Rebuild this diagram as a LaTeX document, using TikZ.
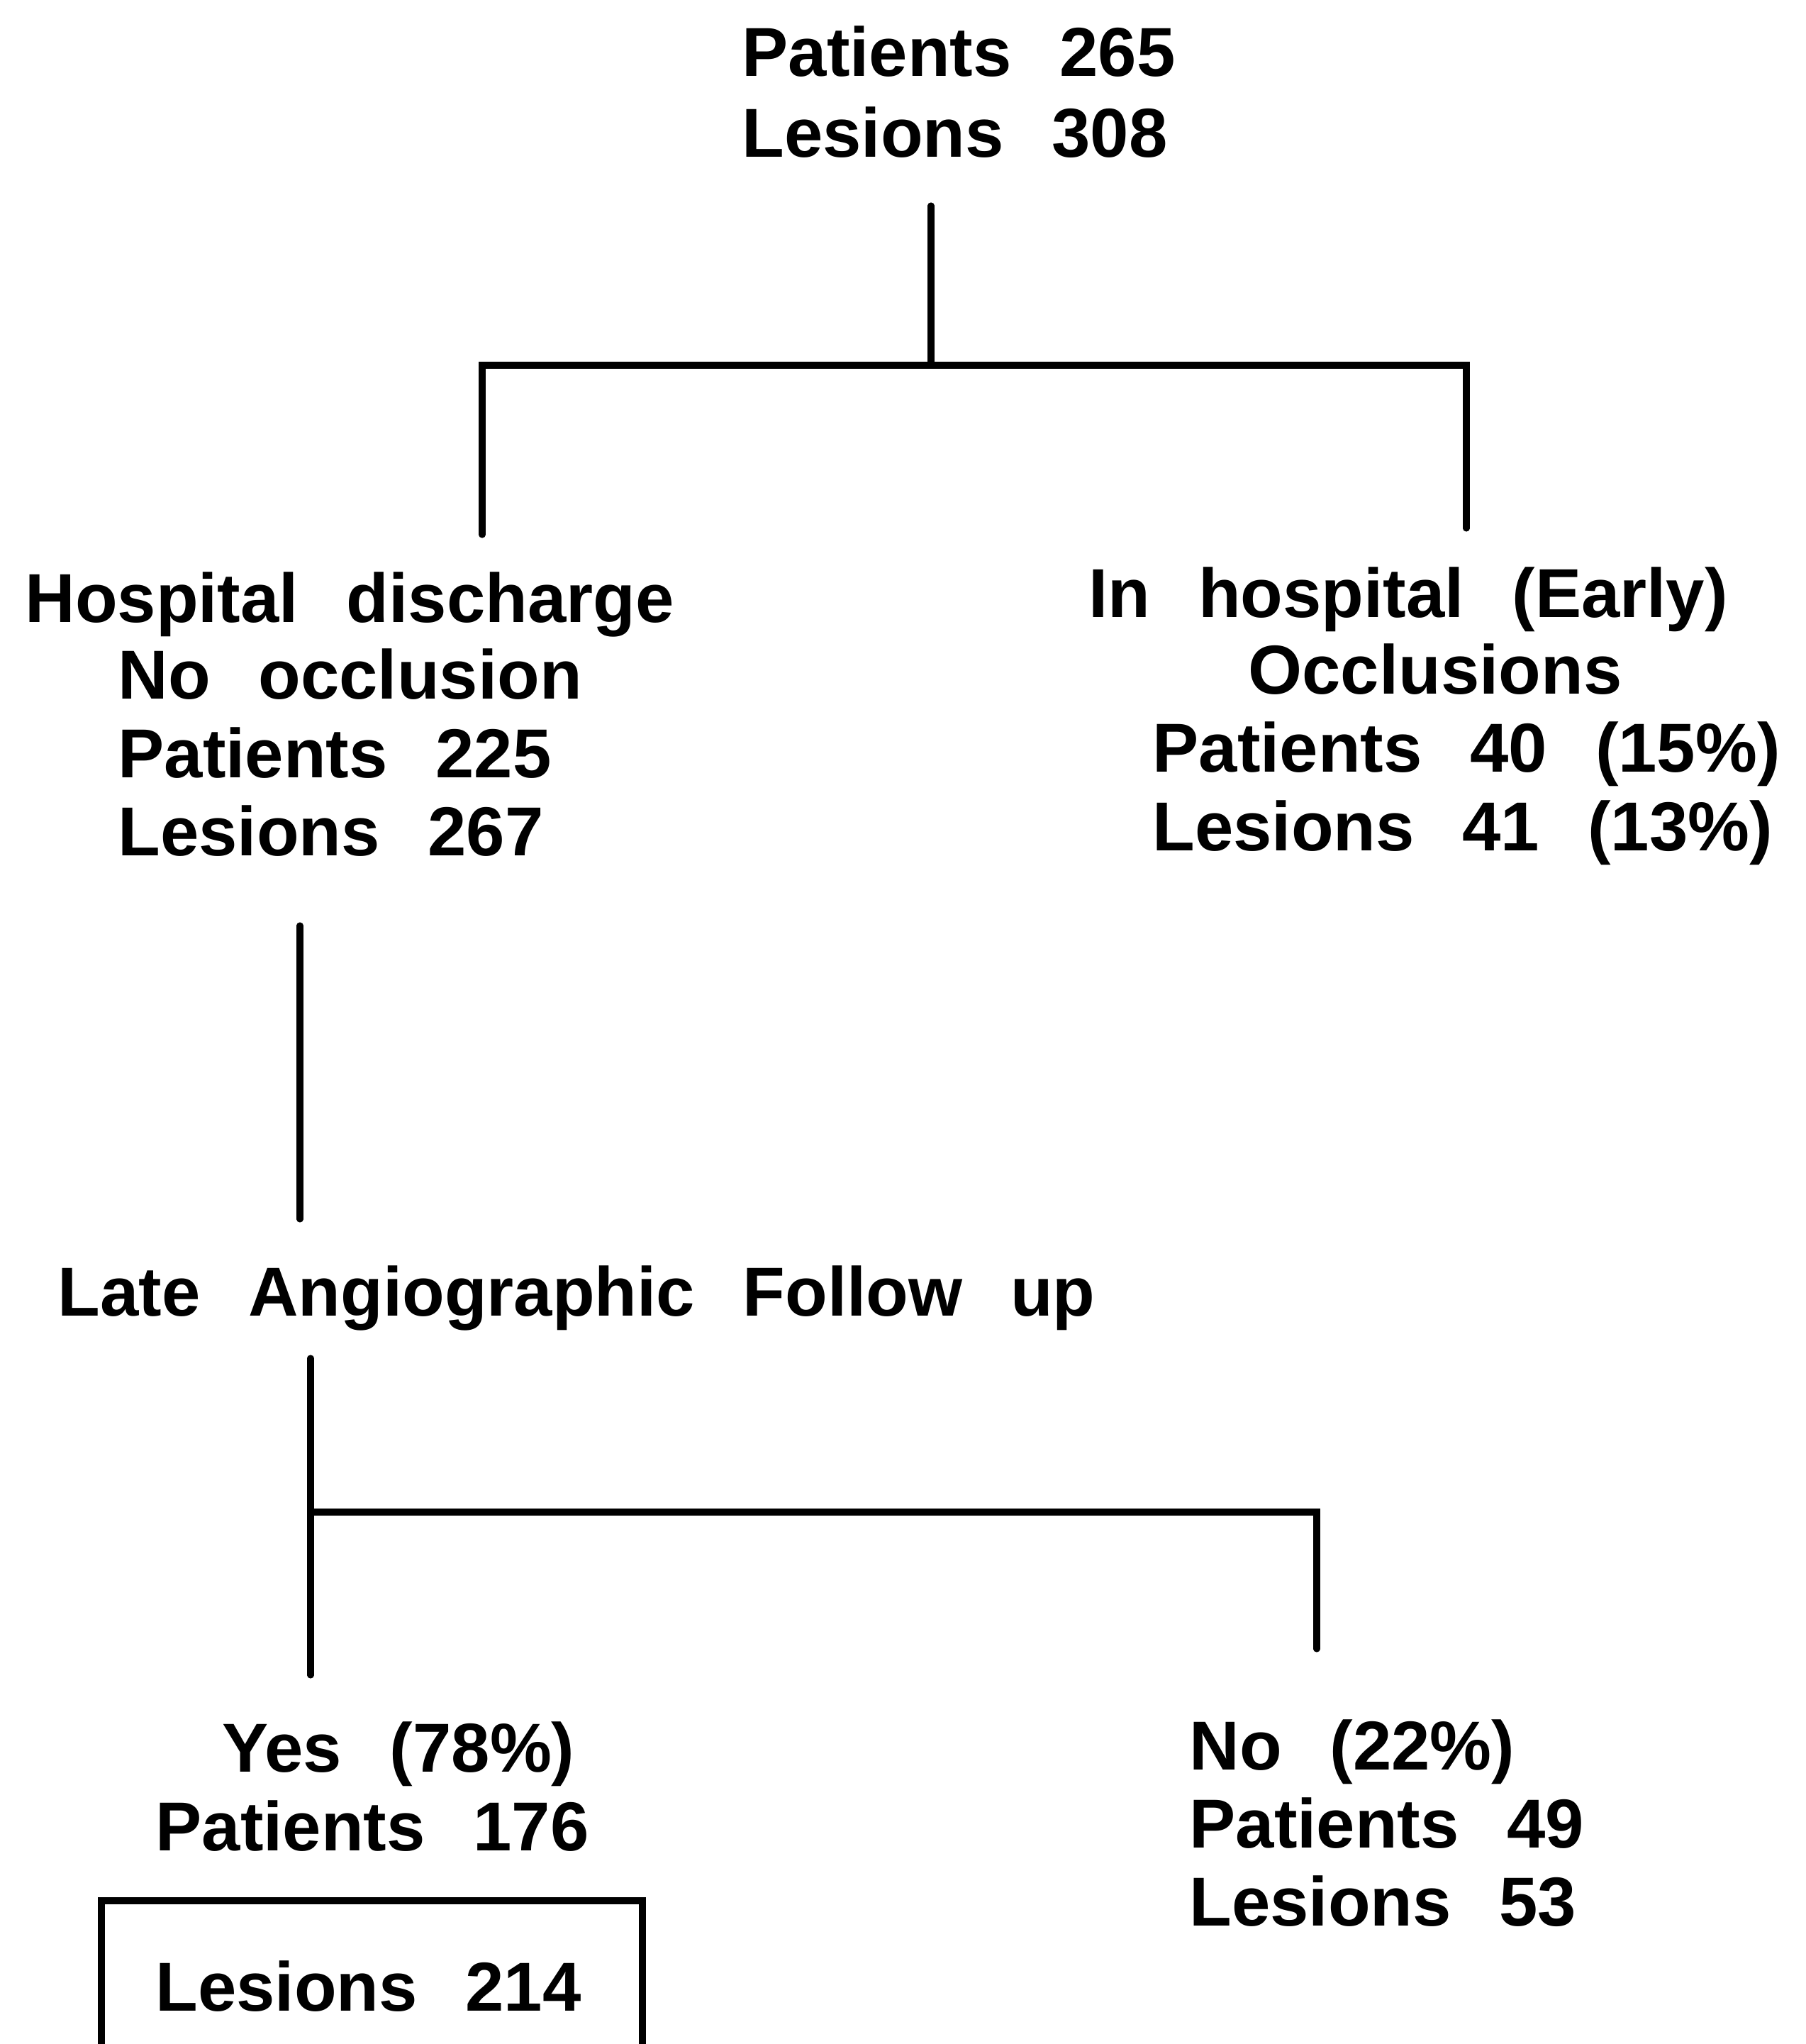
\documentclass[tikz,border=0pt]{standalone}
\usepackage{fontspec}
\setmainfont{Liberation Sans}[WordSpace=2.5]
\begin{document}
\begin{tikzpicture}[x=1cm, y=-1cm, line width=2.6pt, line cap=round,
  txt/.style={anchor=base west, inner sep=0pt, font=\bfseries\fontsize{27.8}{33}\selectfont}]
  \useasboundingbox (0,0) rectangle (25.46,28.82);
  \node[txt] (allpat) at (10.42,1.08) {Patients 265};
  \node[txt] (allles) at (10.42,2.22) {Lesions 308};
  \node[txt] (dischead) at (0.31,8.77) {Hospital discharge};
  \node[txt] (discocc) at (1.62,9.85) {No occlusion};
  \node[txt] (discpat) at (1.62,10.96) {Patients 225};
  \node[txt] (discles) at (1.62,12.06) {Lesions 267};
  \node[txt] (earlyhead) at (15.31,8.71) {In hospital (Early)};
  \node[txt] (earlyocc) at (17.56,9.78) {Occlusions};
  \node[txt] (earlypat) at (16.21,10.88) {Patients 40 (15\%)};
  \node[txt] (earlyles) at (16.21,11.99) {Lesions 41 (13\%)};
  \node[txt] (late) at (0.77,18.55) {Late Angiographic Follow up};
  \node[txt] (yes) at (3.09,24.98) {Yes (78\%)};
  \node[txt] (yespat) at (2.15,26.09) {Patients 176};
  \node[txt] (yesles) at (2.15,28.35) {Lesions 214};
  \node[txt] (no) at (16.73,24.95) {No (22\%)};
  \node[txt] (nopat) at (16.73,26.05) {Patients 49};
  \node[txt] (noles) at (16.73,27.15) {Lesions 53};
  \coordinate (top) at (13.13,2.90);
  \coordinate (fork) at (13.13,5.15);
  \coordinate (disc) at (6.80,7.54);
  \coordinate (early) at (20.68,7.45);
  \coordinate (disc2) at (4.23,13.05);
  \coordinate (late1) at (4.23,17.19);
  \coordinate (late2) at (4.38,19.15);
  \coordinate (yesend) at (4.38,23.62);
  \coordinate (noend) at (18.57,23.25);
  \coordinate (boxl) at (1.43,28.82);
  \coordinate (boxr) at (9.06,26.80);
  \draw (top) -- (fork);
  \draw (disc) |- (fork) -| (early);
  \draw (disc2) -- (late1);
  \draw (late2) -- (yesend);
  \draw (noend) |- (4.38,21.32);
  \draw (boxl) |- (boxr) -- (9.06,28.82);
\end{tikzpicture}
\end{document}
